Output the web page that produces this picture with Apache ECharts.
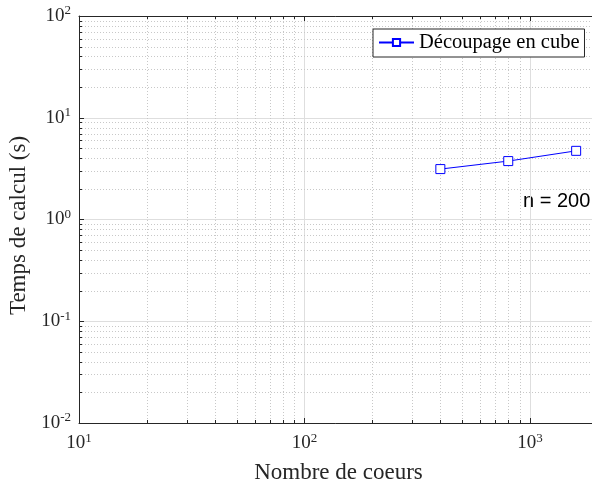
<!DOCTYPE html>
<html>
<head>
<meta charset="utf-8">
<script src="https://cdn.jsdelivr.net/npm/echarts@6/dist/echarts.min.js"></script>
<style>html,body{margin:0;padding:0;background:#fff}#c{width:592px;height:484px}</style>
</head>
<body>
<div id="c"></div>
<script>
const seriesName = 'Découpage en cube';
const coresX = [400, 800, 1600];
const timeY = [3.13, 3.75, 4.73];
const xMinor = [20,30,40,50,60,70,80,90,200,300,400,500,600,700,800,900,2000];
const yMinor = [0.02,0.03,0.04,0.05,0.06,0.07,0.08,0.09,0.2,0.3,0.4,0.5,0.6,0.7,0.8,0.9,2,3,4,5,6,7,8,9,20,30,40,50,60,70,80,90];
const xTitle = 'Nombre de coeurs';
const yTitle = 'Temps de calcul (s)';
const annotation = 'n = 200';

const serif = '"Liberation Serif", "Times New Roman", serif';
const axisColor = '#262626';
const fmt = v => { const e = Math.round(Math.log10(v)); return '{b|10}{s|' + e + '}'; };
const richLab = {
  b: {fontFamily: serif, fontSize: 19, color: axisColor},
  s: {fontFamily: serif, fontSize: 13, color: axisColor, padding: [0, 0, 10, 0]}
};

const chart = echarts.init(document.getElementById('c'), null, {renderer: 'canvas'});

function xMinorItem(params, api) {
  const cs = params.coordSys;
  const x = Math.round(api.coord([api.value(0), 1])[0]) + 0.5;
  return {type: 'group', children: [
    {type: 'line', shape: {x1: x, y1: cs.y, x2: x, y2: cs.y + cs.height}, style: {stroke: '#c8c8c8', lineDash: [1, 2], lineWidth: 1}},
    {type: 'line', shape: {x1: x, y1: cs.y + cs.height, x2: x, y2: cs.y + cs.height - 3}, style: {stroke: axisColor, lineWidth: 1}},
    {type: 'line', shape: {x1: x, y1: cs.y, x2: x, y2: cs.y + 3}, style: {stroke: axisColor, lineWidth: 1}}
  ]};
}
function yMinorItem(params, api) {
  const cs = params.coordSys;
  const y = Math.round(api.coord([10, api.value(1)])[1]) + 0.5;
  return {type: 'group', children: [
    {type: 'line', shape: {x1: cs.x, y1: y, x2: cs.x + cs.width, y2: y}, style: {stroke: '#c8c8c8', lineDash: [1, 2], lineWidth: 1}},
    {type: 'line', shape: {x1: cs.x, y1: y, x2: cs.x + 3, y2: y}, style: {stroke: axisColor, lineWidth: 1}}
  ]};
}

const xBase = {
  type: 'log', logBase: 10, min: 10, max: 2000,
  axisLine: {show: true, lineStyle: {color: axisColor, width: 1}},
  axisTick: {show: true, inside: true, length: 5, lineStyle: {color: axisColor}},
  splitLine: {show: false},
  axisLabel: {show: false}
};

chart.setOption({
  animation: false,
  backgroundColor: '#fff',
  grid: {left: 79, top: 16, width: 519, height: 407, containLabel: false, outerBoundsMode: 'none'},
  xAxis: [
    Object.assign({}, xBase, {
      position: 'bottom',
      splitLine: {show: true, lineStyle: {color: '#dedede', width: 1}},
      axisLabel: {show: true, formatter: fmt, rich: richLab, margin: 9, showMaxLabel: false},
      name: xTitle, nameLocation: 'middle', nameGap: 38,
      nameTextStyle: {fontFamily: serif, fontSize: 23, color: axisColor}
    }),
    Object.assign({}, xBase, {position: 'top'})
  ],
  yAxis: {
    type: 'log', logBase: 10, min: 0.01, max: 100,
    axisLine: {show: true, lineStyle: {color: axisColor, width: 1}},
    axisTick: {show: true, inside: true, length: 5, lineStyle: {color: axisColor}},
    splitLine: {show: true, lineStyle: {color: '#dedede', width: 1}},
    axisLabel: {formatter: fmt, rich: richLab, margin: 8},
    name: yTitle, nameLocation: 'middle', nameGap: 43,
    nameTextStyle: {fontFamily: serif, fontSize: 23, color: axisColor, padding: [0, 12, 0, 0]}
  },
  legend: {
    data: [seriesName],
    left: 373, top: 29,
    backgroundColor: '#fff',
    borderColor: axisColor, borderWidth: 1,
    padding: [3, 5, 4, 5],
    itemWidth: 35, itemHeight: 9, itemGap: 5,
    textStyle: {fontFamily: serif, fontSize: 20.5, color: '#000'}
  },
  graphic: [{
    type: 'text', left: 523, top: 191,
    style: {text: annotation, fontFamily: '"Liberation Sans", Arial, sans-serif', fontSize: 20, fill: '#000'}
  }],
  series: [
    {type: 'custom', renderItem: xMinorItem, data: xMinor.map(v => [v, 1]), z: 1, silent: true},
    {type: 'custom', renderItem: yMinorItem, data: yMinor.map(v => [10, v]), z: 1, silent: true},
    {
      name: seriesName, type: 'line', z: 5,
      data: coresX.map((x, i) => [x, timeY[i]]),
      symbol: 'rect', symbolSize: 9, showAllSymbol: true,
      lineStyle: {color: '#0000ff', width: 1},
      itemStyle: {color: '#fff', borderColor: '#0000ff', borderWidth: 1},
      color: '#0000ff'
    }
  ]
});
</script>
</body>
</html>
